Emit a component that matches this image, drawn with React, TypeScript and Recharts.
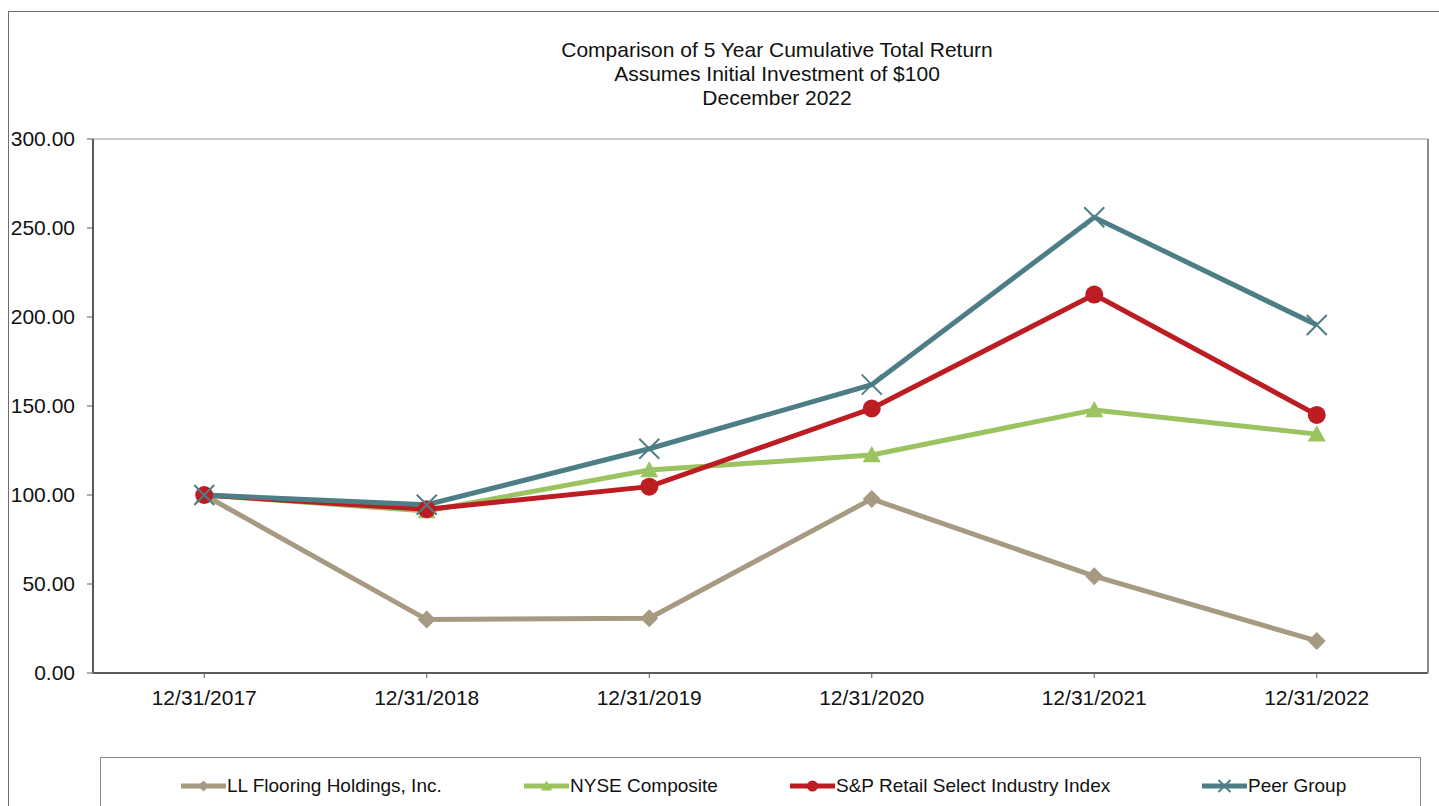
import React from 'react';
import { LineChart, Line, XAxis, YAxis, CartesianGrid } from 'recharts';

const categories = ['12/31/2017', '12/31/2018', '12/31/2019', '12/31/2020', '12/31/2021', '12/31/2022'];
const llFlooring = [100, 30.0, 30.8, 97.8, 54.4, 18.0];
const nyseComposite = [100, 91.0, 114.0, 122.5, 147.8, 134.2];
const spRetail = [100, 92.0, 104.7, 148.6, 212.6, 145.0];
const peerGroup = [100, 94.5, 126.0, 162.0, 256.0, 195.5];
const yTicks = [0, 50, 100, 150, 200, 250, 300];
const titleLines = ['Comparison of 5 Year Cumulative Total Return', 'Assumes Initial Investment of $100', 'December 2022'];

const seriesInfo = [
  { key: 'll', name: 'LL Flooring Holdings, Inc.', color: '#A79A82', marker: 'diamond', legendLeft: 180 },
  { key: 'nyse', name: 'NYSE Composite', color: '#9BC35F', marker: 'triangle', legendLeft: 523 },
  { key: 'sp', name: 'S&P Retail Select Industry Index', color: '#BD1C22', marker: 'circle', legendLeft: 789 },
  { key: 'peer', name: 'Peer Group', color: '#4D7E85', marker: 'x', legendLeft: 1201 },
];

const data = categories.map((c, i) => ({
  date: c,
  ll: llFlooring[i],
  nyse: nyseComposite[i],
  sp: spRetail[i],
  peer: peerGroup[i],
}));

const FONT = 'Arial, "Liberation Sans", Helvetica, sans-serif';

function markerShape(type: string, cx: number, cy: number, color: string, s: number, key?: any) {
  if (type === 'diamond') {
    return <path key={key} d={`M${cx},${cy - s}L${cx + s},${cy}L${cx},${cy + s}L${cx - s},${cy}Z`} fill={color} />;
  }
  if (type === 'triangle') {
    const h = s * 1.8;
    return <path key={key} d={`M${cx},${cy - h * 0.55}L${cx + s},${cy + h * 0.45}L${cx - s},${cy + h * 0.45}Z`} fill={color} />;
  }
  if (type === 'circle') {
    return <circle key={key} cx={cx} cy={cy} r={s} fill={color} />;
  }
  return (
    <path key={key} d={`M${cx - s},${cy - s}L${cx + s},${cy + s}M${cx + s},${cy - s}L${cx - s},${cy + s}`} stroke={color} strokeWidth={2} fill="none" />
  );
}

const makeDot = (type: string, color: string, s: number) => (props: any) => {
  const { cx, cy, index } = props;
  if (cx == null || cy == null) return <g key={`d-${index}`} />;
  return markerShape(type, cx, cy, color, s, `d-${type}-${index}`);
};

const dotSizes: Record<string, number> = { diamond: 9, triangle: 9, circle: 9, x: 10 };

export default function App() {
  return (
    <div
      style={{
        position: 'absolute',
        left: 8,
        top: 11,
        width: 1440,
        height: 800,
        borderTop: '1px solid #6e6e6e',
        borderLeft: '1px solid #6e6e6e',
        boxSizing: 'border-box',
        background: '#fff',
        fontFamily: FONT,
        overflow: 'hidden',
      }}
    >
      <div
        style={{
          position: 'absolute',
          left: 368,
          top: 26,
          width: 800,
          textAlign: 'center',
          fontSize: 21,
          lineHeight: '24px',
          color: '#111',
        }}
      >
        {titleLines.map((t) => (
          <div key={t}>{t}</div>
        ))}
      </div>
      <div style={{ position: 'absolute', left: 0, top: 0 }}>
        <LineChart width={1430} height={700} data={data} margin={{ top: 127, right: 10, bottom: 9, left: 0 }}>
          <CartesianGrid vertical={false} stroke="#9a9a9a" strokeWidth={1.2} />
          <XAxis
            dataKey="date"
            scale="band"
            height={30}
            tickSize={5}
            tickMargin={12}
            axisLine={{ stroke: '#5a5a5a', strokeWidth: 2 }}
            tickLine={{ stroke: '#5a5a5a' }}
            tick={{ fill: '#111', fontSize: 21, fontFamily: FONT }}
            interval={0}
          />
          <YAxis
            yAxisId="left"
            domain={[0, 300]}
            ticks={yTicks}
            width={84}
            tickSize={6}
            tickMargin={12}
            tickFormatter={(v: number) => v.toFixed(2)}
            axisLine={{ stroke: '#5a5a5a', strokeWidth: 2 }}
            tickLine={{ stroke: '#5a5a5a' }}
            tick={{ fill: '#111', fontSize: 21, fontFamily: FONT }}
            interval={0}
          />
          <YAxis
            yAxisId="right"
            orientation="right"
            domain={[0, 300]}
            width={1}
            tick={false}
            tickLine={false}
            axisLine={{ stroke: '#8a8a8a', strokeWidth: 2 }}
          />
          {seriesInfo.map((s) => (
            <Line
              key={s.key}
              yAxisId="left"
              type="linear"
              dataKey={s.key}
              name={s.name}
              stroke={s.color}
              strokeWidth={5}
              dot={makeDot(s.marker, s.color, dotSizes[s.marker])}
              activeDot={false}
              isAnimationActive={false}
            />
          ))}
        </LineChart>
      </div>
      <div
        style={{
          position: 'absolute',
          left: 91,
          top: 745,
          width: 1321,
          height: 80,
          border: '1px solid #8a8a8a',
          boxSizing: 'border-box',
        }}
      >
        {seriesInfo.map((s) => (
          <div
            key={s.key}
            style={{
              position: 'absolute',
              left: s.legendLeft - 100,
              top: 14,
              height: 28,
              display: 'flex',
              alignItems: 'center',
              whiteSpace: 'nowrap',
              fontSize: 19,
              color: '#111',
            }}
          >
            <svg width={45} height={24} style={{ display: 'block' }}>
              <line x1={0} y1={12} x2={45} y2={12} stroke={s.color} strokeWidth={5} />
              {markerShape(s.marker, 22.5, 12, s.color, s.marker === 'x' ? 6 : 5.5)}
            </svg>
            <span style={{ marginLeft: 1 }}>{s.name}</span>
          </div>
        ))}
      </div>
    </div>
  );
}
